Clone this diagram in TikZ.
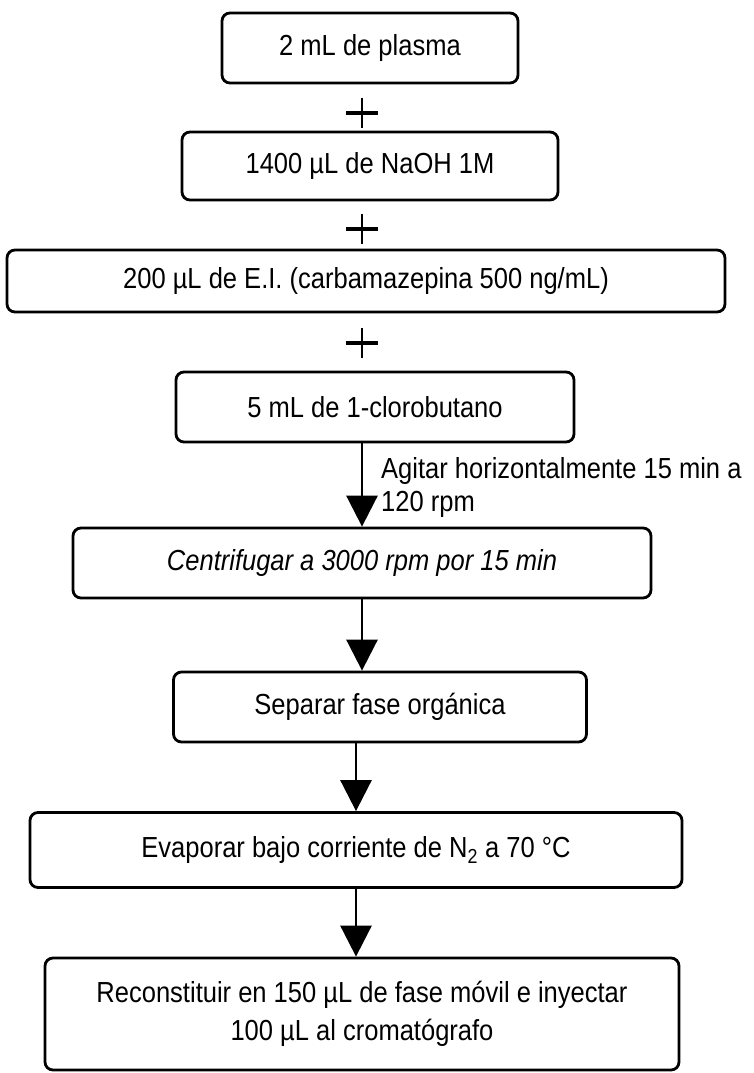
\documentclass[tikz,border=0pt]{standalone}
\usepackage{fontspec}
\setmainfont{Liberation Sans}[FakeStretch=0.88]
\usetikzlibrary{arrows.meta}
\begin{document}
\begin{tikzpicture}[x=1pt,y=-1pt,
  box/.style={draw, line width=2.8pt, rounded corners=8pt, inner sep=0pt, align=center,
    font=\fontsize{29}{38}\selectfont},
  arr/.style={line width=2.8pt, -{Triangle[length=31pt,width=31pt]}},
  plussign/.style={minimum width=32pt, minimum height=30pt, inner sep=0pt,
    path picture={\draw[line width=3.4pt]
      (path picture bounding box.west) -- (path picture bounding box.east);}},
  plusline/.style={line width=2.8pt},
  lbl/.style={inner sep=0pt, align=left, font=\fontsize{29}{33}\selectfont}]
\useasboundingbox (0,0) rectangle (754,1073);
\node[box, minimum width=296pt, minimum height=70pt] (b1) at (370,48) {2 mL de plasma};
\node[plussign] (p1) at (362,113) {};
\node[box, minimum width=376pt, minimum height=68pt] (b2) at (370,166) {1400 µL de NaOH 1M};
\node[plussign] (p2) at (362,229) {};
\node[box, minimum width=718pt, minimum height=62pt] (b3) at (366,281) {200 µL de E.I. (carbamazepina 500 ng/mL)};
\node[plussign] (p3) at (362,343) {};
\node[box, minimum width=398pt, minimum height=70pt] (b4) at (375,407) {5 mL de 1-clorobutano};
\node[box, minimum width=578pt, minimum height=70pt] (b5) at (362,563) {\itshape Centrifugar a 3000 rpm por 15 min};
\node[box, minimum width=413pt, minimum height=70pt] (b6) at (380,707) {Separar fase orgánica};
\node[box, minimum width=652pt, minimum height=75pt] (b7) at (356,850) {Evaporar bajo corriente de N\textsubscript{2} a 70 °C};
\node[box, minimum width=634pt, minimum height=112pt] (b8) at (362,1014) {Reconstituir en 150 µL de fase móvil e inyectar\\100 µL al cromatógrafo};
\draw[plusline] (p1.north) -- (p1.south);
\draw[plusline] (p2.north) -- (p2.south);
\draw[plusline] (p3.north) -- (p3.south);
\draw[arr] (b4.south -| b5.north) -- (b5.north);
\node[lbl, anchor=west] (lab) at (381,487) {Agitar horizontalmente 15 min a\\120 rpm};
\draw[arr] (b5.south) -- (b5.south |- b6.north);
\draw[arr] (b6.south -| b7.north) -- (b7.north);
\draw[arr] (b7.south) -- (b7.south |- b8.north);
\end{tikzpicture}
\end{document}
